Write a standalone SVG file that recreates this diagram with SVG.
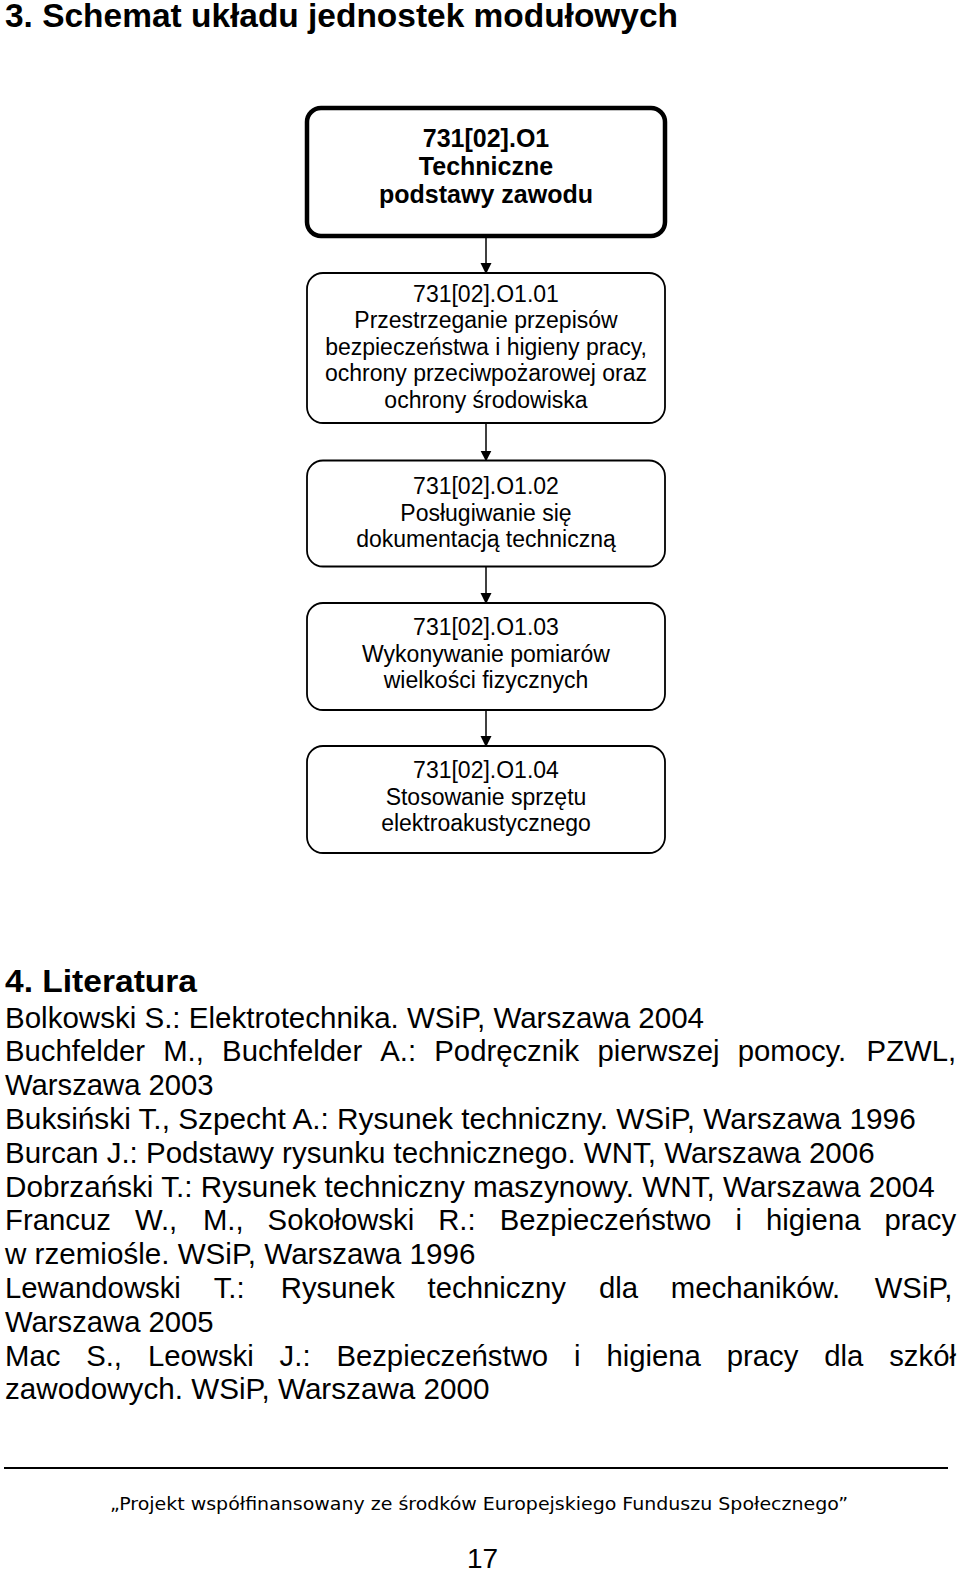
<svg xmlns="http://www.w3.org/2000/svg" width="960" height="1573" viewBox="0 0 960 1573">
<style>
.t{font-family:"Liberation Sans",Arial,sans-serif;fill:#000}
.h{font-family:"Liberation Sans",Arial,sans-serif;font-weight:bold;fill:#000}
.bx{fill:#fff;stroke:#000;stroke-width:1.8}
.bxt{fill:#fff;stroke:#000;stroke-width:4.5}
.nt{font-family:"Liberation Sans",Arial,sans-serif;font-size:23px;text-anchor:middle;fill:#000}
.nb{font-family:"Liberation Sans",Arial,sans-serif;font-size:25px;font-weight:bold;text-anchor:middle;fill:#000}
.lit{font-family:"Liberation Sans",Arial,sans-serif;font-size:29.3px;fill:#000}
.con{stroke:#000;stroke-width:1.5;fill:none;marker-end:url(#arr)}
</style>
<defs>
<marker id="arr" markerWidth="11" markerHeight="12" refX="9" refY="5" orient="auto" markerUnits="userSpaceOnUse" viewBox="0 0 10 10">
<path d="M0,0 L10,5 L0,10 Z" fill="#000"/>
</marker>
</defs>
<rect width="960" height="1573" fill="#fff"/>
<text class="h" x="5" y="27" font-size="33" textLength="673" lengthAdjust="spacingAndGlyphs">3. Schemat układu jednostek modułowych</text>

<g id="connectors">
<line class="con" x1="486" y1="238" x2="486" y2="273"/>
<line class="con" x1="486" y1="423" x2="486" y2="460.5"/>
<line class="con" x1="486" y1="566.5" x2="486" y2="603"/>
<line class="con" x1="486" y1="710" x2="486" y2="746"/>
</g>

<g id="node-o1">
<rect class="bxt" x="307" y="108" width="358" height="128" rx="14"/>
<text class="nb" x="486" y="146.7">731[02].O1</text>
<text class="nb" x="486" y="174.7">Techniczne</text>
<text class="nb" x="486" y="202.7">podstawy zawodu</text>
</g>

<g id="node-o1-01">
<rect class="bx" x="307" y="273" width="358" height="150" rx="16"/>
<text class="nt" x="486" y="301.5">731[02].O1.01</text>
<text class="nt" x="486" y="328">Przestrzeganie przepisów</text>
<text class="nt" x="486" y="354.5">bezpieczeństwa i higieny pracy,</text>
<text class="nt" x="486" y="381">ochrony przeciwpożarowej oraz</text>
<text class="nt" x="486" y="407.5">ochrony środowiska</text>
</g>

<g id="node-o1-02">
<rect class="bx" x="307" y="460.5" width="358" height="106" rx="16"/>
<text class="nt" x="486" y="494">731[02].O1.02</text>
<text class="nt" x="486" y="520.5">Posługiwanie się</text>
<text class="nt" x="486" y="547">dokumentacją techniczną</text>
</g>

<g id="node-o1-03">
<rect class="bx" x="307" y="603" width="358" height="107" rx="16"/>
<text class="nt" x="486" y="635">731[02].O1.03</text>
<text class="nt" x="486" y="661.5">Wykonywanie pomiarów</text>
<text class="nt" x="486" y="688">wielkości fizycznych</text>
</g>

<g id="node-o1-04">
<rect class="bx" x="307" y="746" width="358" height="107" rx="16"/>
<text class="nt" x="486" y="778">731[02].O1.04</text>
<text class="nt" x="486" y="804.5">Stosowanie sprzętu</text>
<text class="nt" x="486" y="831">elektroakustycznego</text>
</g>

<text class="h" x="5" y="992" font-size="31" textLength="192" lengthAdjust="spacingAndGlyphs">4. Literatura</text>
<text class="lit" x="5" y="1027.5" textLength="699" lengthAdjust="spacingAndGlyphs">Bolkowski S.: Elektrotechnika. WSiP, Warszawa 2004</text>
<text class="lit" y="1061.3"><tspan x="5">Buchfelder</tspan><tspan x="163.2">M.,</tspan><tspan x="222.1">Buchfelder</tspan><tspan x="380.3">A.:</tspan><tspan x="434.3">Podręcznik</tspan><tspan x="597.4">pierwszej</tspan><tspan x="737.7">pomocy.</tspan><tspan x="866.6">PZWL,</tspan></text>
<text class="lit" x="5" y="1095.1" textLength="208.6" lengthAdjust="spacingAndGlyphs">Warszawa 2003</text>
<text class="lit" x="5" y="1128.9" textLength="910.7" lengthAdjust="spacingAndGlyphs">Buksiński T., Szpecht A.: Rysunek techniczny. WSiP, Warszawa 1996</text>
<text class="lit" x="5" y="1162.7" textLength="869.6" lengthAdjust="spacingAndGlyphs">Burcan J.: Podstawy rysunku technicznego. WNT, Warszawa 2006</text>
<text class="lit" x="5" y="1196.5" textLength="929.8" lengthAdjust="spacingAndGlyphs">Dobrzański T.: Rysunek techniczny maszynowy. WNT, Warszawa 2004</text>
<text class="lit" y="1230.3"><tspan x="5">Francuz</tspan><tspan x="134.9">W.,</tspan><tspan x="202.9">M.,</tspan><tspan x="267.6">Sokołowski</tspan><tspan x="438.2">R.:</tspan><tspan x="499.7">Bezpieczeństwo</tspan><tspan x="735.4">i</tspan><tspan x="766">higiena</tspan><tspan x="884.5">pracy</tspan></text>
<text class="lit" x="5" y="1264.1" textLength="470.4" lengthAdjust="spacingAndGlyphs">w rzemiośle. WSiP, Warszawa 1996</text>
<text class="lit" y="1297.9"><tspan x="5">Lewandowski</tspan><tspan x="213.7">T.:</tspan><tspan x="280.8">Rysunek</tspan><tspan x="427.6">techniczny</tspan><tspan x="598.9">dla</tspan><tspan x="670.8">mechaników.</tspan><tspan x="874.7">WSiP,</tspan></text>
<text class="lit" x="5" y="1331.7" textLength="208.6" lengthAdjust="spacingAndGlyphs">Warszawa 2005</text>
<text class="lit" y="1365.5"><tspan x="5">Mac</tspan><tspan x="86.2">S.,</tspan><tspan x="147.9">Leowski</tspan><tspan x="279.6">J.:</tspan><tspan x="336.4">Bezpieczeństwo</tspan><tspan x="574">i</tspan><tspan x="606.4">higiena</tspan><tspan x="726.7">pracy</tspan><tspan x="824.2">dla</tspan><tspan x="889.2">szkół</tspan></text>
<text class="lit" x="5" y="1399.3" textLength="484.5" lengthAdjust="spacingAndGlyphs">zawodowych. WSiP, Warszawa 2000</text>

<line x1="4" y1="1468" x2="948" y2="1468" stroke="#000" stroke-width="2"/>
<text x="110" y="1510" font-family="'DejaVu Sans',Verdana,sans-serif" font-size="17" textLength="738" lengthAdjust="spacingAndGlyphs" fill="#000">„Projekt współfinansowany ze środków Europejskiego Funduszu Społecznego”</text>
<text class="t" x="467" y="1568" font-size="28">17</text>
</svg>
